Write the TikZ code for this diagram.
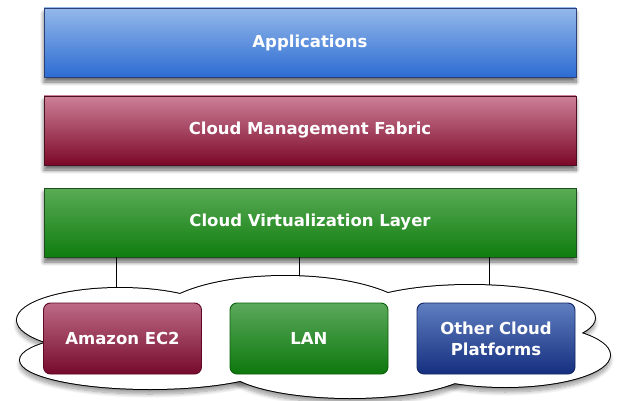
\documentclass[tikz,border=0pt]{standalone}
\usepackage{fontspec}
\setmainfont{DejaVu Sans}
\usetikzlibrary{shadows.blur}

\definecolor{appTop}{HTML}{94B8EA}
\definecolor{appBot}{HTML}{2C6CD2}
\definecolor{appEdge}{HTML}{2B3F78}
\definecolor{mgmtTop}{HTML}{CD8098}
\definecolor{mgmtBot}{HTML}{7C0828}
\definecolor{mgmtEdge}{HTML}{4A1020}
\definecolor{virtTop}{HTML}{5AAB55}
\definecolor{virtBot}{HTML}{0F7D0F}
\definecolor{virtEdge}{HTML}{1D4F1D}
\definecolor{ecTop}{HTML}{BD6A86}
\definecolor{ecBot}{HTML}{760A2C}
\definecolor{lanTop}{HTML}{5BA85B}
\definecolor{lanBot}{HTML}{0D780D}
\definecolor{othTop}{HTML}{5F7EC0}
\definecolor{othBot}{HTML}{152F7E}

\begin{document}
\begin{tikzpicture}[x=1pt,y=-1pt,
  softshadow/.style={blur shadow={shadow xshift=0pt, shadow yshift=-5pt,
      shadow blur radius=4pt, shadow blur steps=10, shadow opacity=60}},
  layerbox/.style={rectangle, minimum width=532pt, minimum height=69pt,
      inner sep=0pt, line width=0.9pt, text=white,
      font=\fontsize{16.5}{19}\selectfont\bfseries, softshadow},
  sitebox/.style={rectangle, rounded corners=7pt, minimum width=158pt,
      minimum height=71pt, inner sep=0pt, line width=0.9pt, text=white,
      align=center, font=\fontsize{16.5}{21}\selectfont\bfseries},
  lobe/.style={line width=2pt, draw=black},
  link/.style={line width=0.9pt, draw=black}]

\useasboundingbox (0,0) rectangle (621,401);

% stacked layers
\node[layerbox, draw=appEdge, top color=appTop, bottom color=appBot]
  (app) at (310,42.5) {Applications};
\node[layerbox, draw=mgmtEdge, top color=mgmtTop, bottom color=mgmtBot]
  (mgmt) at (310,130.5) {Cloud Management Fabric};
\node[layerbox, draw=virtEdge, top color=virtTop, bottom color=virtBot]
  (virt) at (310,222.5) {Cloud Virtualization Layer};

% points where the links meet the cloud
\coordinate (t1) at (116,288);
\coordinate (t2) at (299,276.5);
\coordinate (t3) at (489,285.5);

\draw[link] (virt.south -| t1) -- (t1);
\draw[link] (virt.south -| t2) -- (t2);
\draw[link] (virt.south -| t3) -- (t3);

% cloud lobes: centre x / centre y / x radius / y radius
\def\lobelist{120/320/103/32, 285/320/130/44, 470/318/125/33,
              505/355/105/32, 150/360/130/29, 350/365/125/33}
% shadow, then outline, then white interior so only the outer edge shows
\foreach \cx/\cy/\rx/\ry in \lobelist{
  \path[blur shadow={shadow xshift=0pt, shadow yshift=-5pt,
      shadow blur radius=4pt, shadow blur steps=10, shadow opacity=40}]
    (\cx,\cy) ellipse [x radius=\rx, y radius=\ry];
}
\foreach \cx/\cy/\rx/\ry in \lobelist{
  \draw[lobe] (\cx,\cy) ellipse [x radius=\rx, y radius=\ry];
}
\foreach \cx/\cy/\rx/\ry in \lobelist{
  \fill[white] (\cx,\cy) ellipse [x radius=\rx, y radius=\ry];
}
\fill[white] (100,300) rectangle (540,372);

% platforms inside the cloud
\node[sitebox, draw=ecBot!80!black, top color=ecTop, bottom color=ecBot]
  (ec2) at (122.5,338.5) {Amazon EC2};
\node[sitebox, draw=lanBot!80!black, top color=lanTop, bottom color=lanBot]
  (lan) at (309,338.5) {LAN};
\node[sitebox, draw=othBot!80!black, top color=othTop, bottom color=othBot]
  (oth) at (496,338.5) {Other Cloud\\Platforms};
\end{tikzpicture}
\end{document}
